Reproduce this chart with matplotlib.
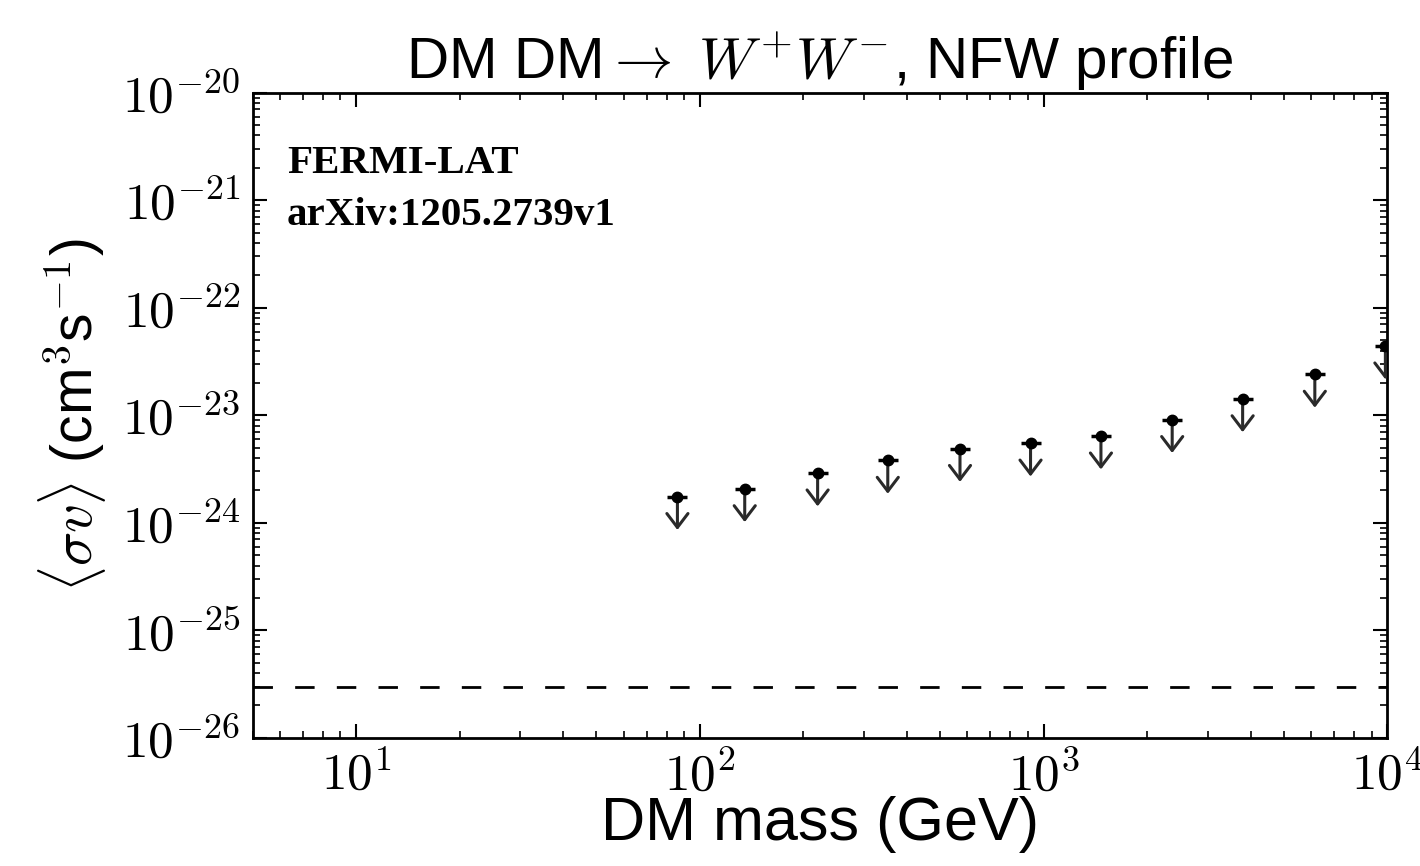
import matplotlib
matplotlib.use("Agg")
import matplotlib.pyplot as plt
from matplotlib.patches import FancyArrowPatch
from matplotlib.ticker import FuncFormatter, LogLocator
import numpy as np

# Data
mass_gev = [86, 135, 220, 352, 571, 916, 1468, 2366, 3793, 6152, 9870]
sigma_v_limit = [1.75e-24, 2.07e-24, 2.9e-24, 3.8e-24, 4.9e-24, 5.5e-24,
                 6.4e-24, 9.1e-24, 1.42e-23, 2.4e-23, 4.4e-23]
thermal_xsec = 3.0e-26
xlim = (5, 1e4)
ylim = (1e-26, 1e-20)
arrow_factor = 0.49

plt.rcParams['mathtext.fontset'] = 'cm'
plt.rcParams['font.family'] = ['Liberation Sans', 'DejaVu Sans']

fig = plt.figure(figsize=(14.2, 8.66), dpi=100)
ax = fig.add_axes([0.178, 0.148, 0.799, 0.745])
ax.set_xscale('log')
ax.set_yscale('log')
ax.set_xlim(*xlim)
ax.set_ylim(*ylim)

ax.axhline(thermal_xsec, color='black', lw=2, ls=(0, (7, 8)))

for x, y in zip(mass_gev, sigma_v_limit):
    arr = FancyArrowPatch((x, y), (x, y * arrow_factor),
                          arrowstyle='->,head_length=0.5,head_width=0.38',
                          mutation_scale=20, lw=2.2, color='#2a2a2a',
                          shrinkA=0, shrinkB=0, zorder=3)
    ax.add_patch(arr)

ax.plot(mass_gev, sigma_v_limit, ls='none', marker='_', ms=15, mew=2.5,
        color='black', zorder=4, clip_on=True)
ax.plot(mass_gev, sigma_v_limit, ls='none', marker='o', ms=7.5,
        color='black', zorder=5, clip_on=True)

sci = FuncFormatter(lambda v, p: r'$10^{%d}$' % int(round(np.log10(v))))
ax.xaxis.set_major_locator(LogLocator(base=10))
ax.yaxis.set_major_locator(LogLocator(base=10))
ax.xaxis.set_major_formatter(sci)
ax.yaxis.set_major_formatter(sci)

ax.tick_params(which='both', direction='in', top=True, right=True)
ax.tick_params(which='major', length=10, width=1.5, labelsize=37)
ax.tick_params(axis='y', which='major', pad=9)
ax.tick_params(axis='x', which='major', pad=10)
ax.tick_params(which='minor', length=5, width=1.2)
for s in ax.spines.values():
    s.set_linewidth(2)

ax.set_title(r'DM DM$\rightarrow$ $W^{+}W^{-}$, NFW profile', fontsize=42, pad=10)
ax.set_xlabel('DM mass (GeV)', fontsize=44, labelpad=-4)
ax.set_ylabel(r'$\langle\sigma v\rangle$ (cm$^3$s$^{-1}$)', fontsize=41, labelpad=10)

ax.text(0.03, 0.89, 'FERMI-LAT', transform=ax.transAxes, fontsize=29.5,
        fontweight='bold', family='Liberation Serif', va='center')
ax.text(0.03, 0.81, 'arXiv:1205.2739v1', transform=ax.transAxes, fontsize=29.5,
        fontweight='bold', family='Liberation Serif', va='center')

fig.savefig('out.png', dpi=100)
